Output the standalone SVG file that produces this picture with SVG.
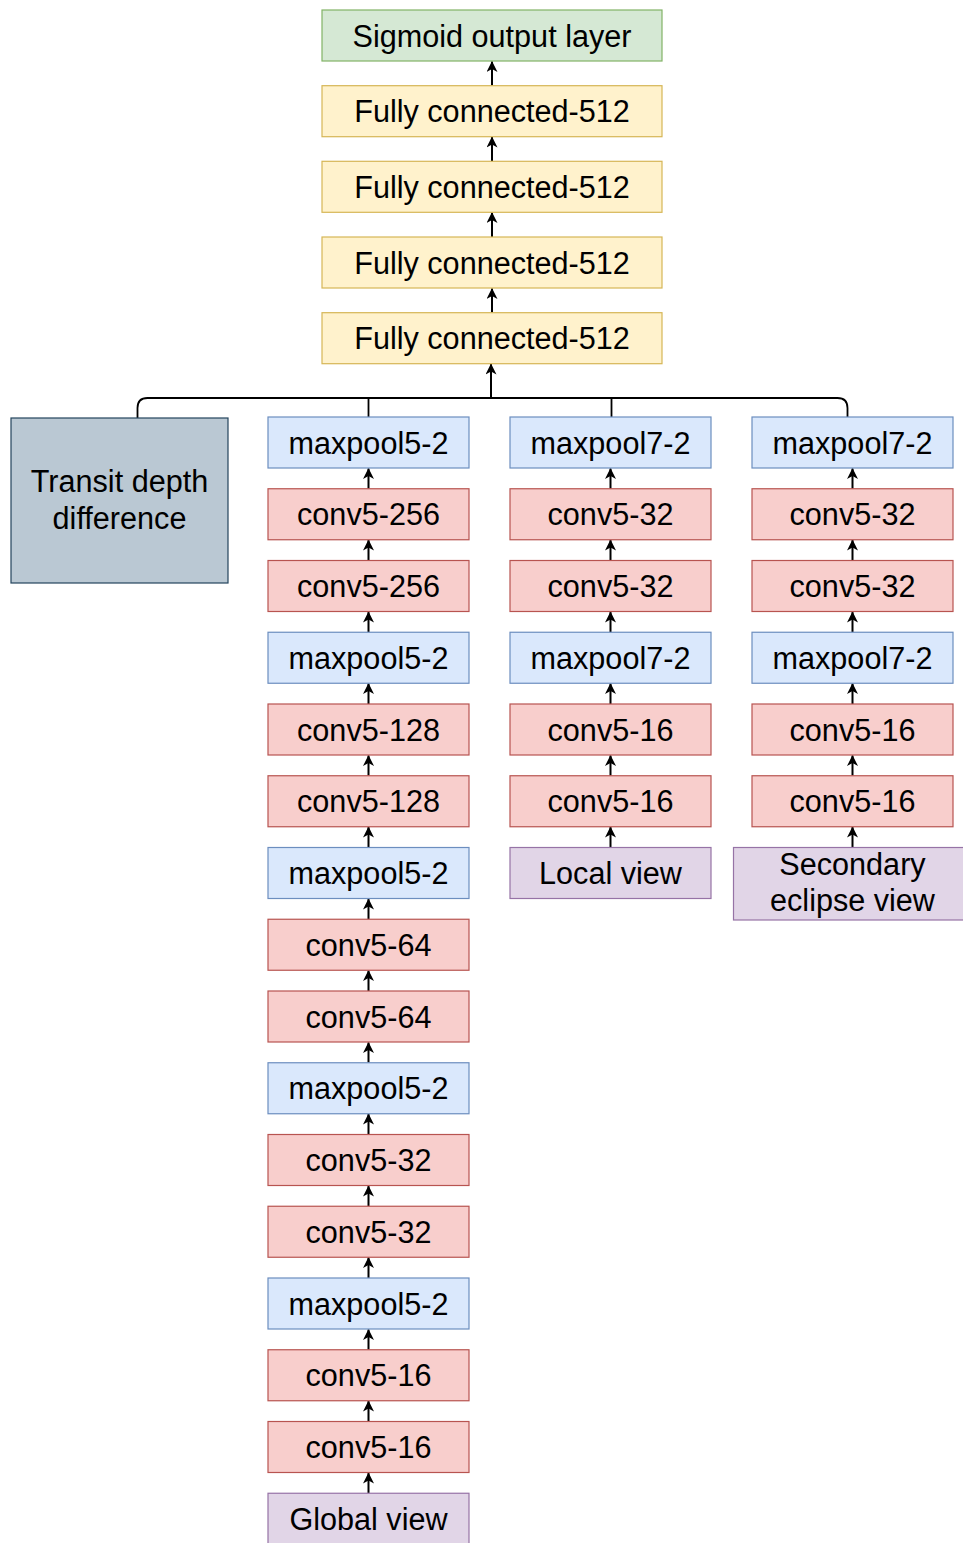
<svg xmlns="http://www.w3.org/2000/svg" width="963" height="1543" viewBox="0 0 963 1543">
<style>
text{font-family:"Liberation Sans",Arial,Helvetica,sans-serif;font-size:30.6px;fill:#000;text-anchor:middle}
rect{stroke-width:1.2}
.blue{fill:#dae8fc;stroke:#6c8ebf}
.red{fill:#f8cecc;stroke:#b85450}
.yellow{fill:#fff2cc;stroke:#d6b656}
.green{fill:#d5e8d4;stroke:#82b366}
.purple{fill:#e1d5e7;stroke:#9673a6}
.slate{fill:#bac8d3;stroke:#23445d}
.edge{fill:none;stroke:#000;stroke-width:1.8}
.arr{fill:none;stroke:#000;stroke-width:2;marker-end:url(#ah)}
</style>
<defs>
<marker id="ah" markerUnits="userSpaceOnUse" markerWidth="11" markerHeight="11" viewBox="0 0 11 11" refX="10.5" refY="5.5" orient="auto">
<path d="M0,0 L11,5.5 L0,11 L3,5.5 Z" fill="#000"/>
</marker>
</defs>

<g id="connectors">
<path class="arr" d="M492,85.7 V61.5"/>
<path class="arr" d="M492,161.3 V137"/>
<path class="arr" d="M492,237 V212.5"/>
<path class="arr" d="M492,312.7 V288.5"/>
<path class="arr" d="M491,398 V364"/>
<path class="edge" d="M137.5,418 V408 Q137.5,398 147.5,398 H837.5 Q847.5,398 847.5,408 V417"/>
<path class="edge" d="M368.5,398 V417"/>
<path class="edge" d="M611.5,398 V417"/>
<path class="arr" d="M368.5,488.75 V468.5"/>
<path class="arr" d="M368.5,560.5 V540"/>
<path class="arr" d="M368.5,632.25 V612"/>
<path class="arr" d="M368.5,704 V683.5"/>
<path class="arr" d="M368.5,775.75 V755.5"/>
<path class="arr" d="M368.5,847.5 V827"/>
<path class="arr" d="M368.5,919.25 V899"/>
<path class="arr" d="M368.5,991 V970.5"/>
<path class="arr" d="M368.5,1062.75 V1042.5"/>
<path class="arr" d="M368.5,1134.5 V1114"/>
<path class="arr" d="M368.5,1206.25 V1186"/>
<path class="arr" d="M368.5,1278 V1257.5"/>
<path class="arr" d="M368.5,1349.75 V1329.5"/>
<path class="arr" d="M368.5,1421.5 V1401"/>
<path class="arr" d="M368.5,1493.25 V1473"/>
<path class="arr" d="M610.5,488.75 V468.5"/>
<path class="arr" d="M610.5,560.5 V540"/>
<path class="arr" d="M610.5,632.25 V612"/>
<path class="arr" d="M610.5,704 V683.5"/>
<path class="arr" d="M610.5,775.75 V755.5"/>
<path class="arr" d="M610.5,847.5 V827"/>
<path class="arr" d="M852.5,488.75 V468.5"/>
<path class="arr" d="M852.5,560.5 V540"/>
<path class="arr" d="M852.5,632.25 V612"/>
<path class="arr" d="M852.5,704 V683.5"/>
<path class="arr" d="M852.5,775.75 V755.5"/>
<path class="arr" d="M852.5,847.5 V827"/>
</g>

<g id="sigmoid"><rect class="green" x="322" y="10" width="340" height="51"/><text x="492" y="46.5">Sigmoid output layer</text></g>
<g id="fc1"><rect class="yellow" x="322" y="85.7" width="340" height="51"/><text x="492" y="122.2">Fully connected-512</text></g>
<g id="fc2"><rect class="yellow" x="322" y="161.3" width="340" height="51"/><text x="492" y="197.8">Fully connected-512</text></g>
<g id="fc3"><rect class="yellow" x="322" y="237" width="340" height="51"/><text x="492" y="273.5">Fully connected-512</text></g>
<g id="fc4"><rect class="yellow" x="322" y="312.7" width="340" height="51"/><text x="492" y="349.2">Fully connected-512</text></g>

<g id="transit"><rect class="slate" x="11" y="418" width="217" height="165"/><text x="119.5" y="492">Transit depth</text><text x="119.5" y="529">difference</text></g>

<g id="g0"><rect class="blue" x="268" y="417" width="201" height="51"/><text x="368.5" y="453.5">maxpool5-2</text></g>
<g id="g1"><rect class="red" x="268" y="488.75" width="201" height="51"/><text x="368.5" y="525.25">conv5-256</text></g>
<g id="g2"><rect class="red" x="268" y="560.5" width="201" height="51"/><text x="368.5" y="597">conv5-256</text></g>
<g id="g3"><rect class="blue" x="268" y="632.25" width="201" height="51"/><text x="368.5" y="668.75">maxpool5-2</text></g>
<g id="g4"><rect class="red" x="268" y="704" width="201" height="51"/><text x="368.5" y="740.5">conv5-128</text></g>
<g id="g5"><rect class="red" x="268" y="775.75" width="201" height="51"/><text x="368.5" y="812.25">conv5-128</text></g>
<g id="g6"><rect class="blue" x="268" y="847.5" width="201" height="51"/><text x="368.5" y="884">maxpool5-2</text></g>
<g id="g7"><rect class="red" x="268" y="919.25" width="201" height="51"/><text x="368.5" y="955.75">conv5-64</text></g>
<g id="g8"><rect class="red" x="268" y="991" width="201" height="51"/><text x="368.5" y="1027.5">conv5-64</text></g>
<g id="g9"><rect class="blue" x="268" y="1062.75" width="201" height="51"/><text x="368.5" y="1099.25">maxpool5-2</text></g>
<g id="g10"><rect class="red" x="268" y="1134.5" width="201" height="51"/><text x="368.5" y="1171">conv5-32</text></g>
<g id="g11"><rect class="red" x="268" y="1206.25" width="201" height="51"/><text x="368.5" y="1242.75">conv5-32</text></g>
<g id="g12"><rect class="blue" x="268" y="1278" width="201" height="51"/><text x="368.5" y="1314.5">maxpool5-2</text></g>
<g id="g13"><rect class="red" x="268" y="1349.75" width="201" height="51"/><text x="368.5" y="1386.25">conv5-16</text></g>
<g id="g14"><rect class="red" x="268" y="1421.5" width="201" height="51"/><text x="368.5" y="1458">conv5-16</text></g>
<g id="global-view"><rect class="purple" x="268" y="1493.25" width="201" height="51"/><text x="368.5" y="1529.75">Global view</text></g>

<g id="l0"><rect class="blue" x="510" y="417" width="201" height="51"/><text x="610.5" y="453.5">maxpool7-2</text></g>
<g id="l1"><rect class="red" x="510" y="488.75" width="201" height="51"/><text x="610.5" y="525.25">conv5-32</text></g>
<g id="l2"><rect class="red" x="510" y="560.5" width="201" height="51"/><text x="610.5" y="597">conv5-32</text></g>
<g id="l3"><rect class="blue" x="510" y="632.25" width="201" height="51"/><text x="610.5" y="668.75">maxpool7-2</text></g>
<g id="l4"><rect class="red" x="510" y="704" width="201" height="51"/><text x="610.5" y="740.5">conv5-16</text></g>
<g id="l5"><rect class="red" x="510" y="775.75" width="201" height="51"/><text x="610.5" y="812.25">conv5-16</text></g>
<g id="local-view"><rect class="purple" x="510" y="847.5" width="201" height="51"/><text x="610.5" y="884">Local view</text></g>

<g id="s0"><rect class="blue" x="752" y="417" width="201" height="51"/><text x="852.5" y="453.5">maxpool7-2</text></g>
<g id="s1"><rect class="red" x="752" y="488.75" width="201" height="51"/><text x="852.5" y="525.25">conv5-32</text></g>
<g id="s2"><rect class="red" x="752" y="560.5" width="201" height="51"/><text x="852.5" y="597">conv5-32</text></g>
<g id="s3"><rect class="blue" x="752" y="632.25" width="201" height="51"/><text x="852.5" y="668.75">maxpool7-2</text></g>
<g id="s4"><rect class="red" x="752" y="704" width="201" height="51"/><text x="852.5" y="740.5">conv5-16</text></g>
<g id="s5"><rect class="red" x="752" y="775.75" width="201" height="51"/><text x="852.5" y="812.25">conv5-16</text></g>
<g id="secondary-view"><rect class="purple" x="733.5" y="847.5" width="231" height="72.5"/><text x="852.5" y="875">Secondary</text><text x="852.5" y="911">eclipse view</text></g>
</svg>
